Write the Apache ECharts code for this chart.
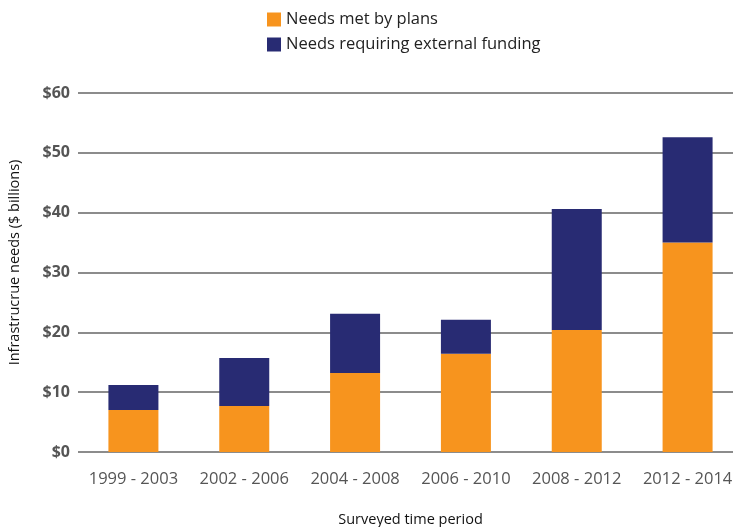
<!DOCTYPE html>
<html><head><meta charset="utf-8">
<script src="https://cdn.jsdelivr.net/npm/echarts@6/dist/echarts.min.js"></script>
<style>html,body{margin:0;padding:0;background:#fff}#c{width:733px;height:527px}</style>
</head><body><div id="c"></div>
<script>
const categories = ['1999 - 2003','2002 - 2006','2004 - 2008','2006 - 2010','2008 - 2012','2012 - 2014'];
const metByPlans = [7.0, 7.7, 13.2, 16.4, 20.4, 35.0];
const totalNeeds = [11.2, 15.7, 23.1, 22.1, 40.6, 52.6];
const externalFunding = totalNeeds.map((t, i) => +(t - metByPlans[i]).toFixed(1));
const yTicks = [0, 10, 20, 30, 40, 50, 60];

const FONT = '"Open Sans", "Noto Sans", sans-serif';
const chart = echarts.init(document.getElementById('c'), null, {renderer: 'canvas'});
chart.setOption({
  animation: false,
  textStyle: {fontFamily: FONT},
  legend: {
    orient: 'vertical', left: 262, top: 6, itemWidth: 14, itemHeight: 14, itemGap: 8,
    textStyle: {fontSize: 16.5, color: '#222', fontFamily: FONT},
    icon: 'rect',
    data: ['Needs met by plans', 'Needs requiring external funding']
  },
  grid: {left: 78, width: 665, top: 93, bottom: 75, containLabel: false, outerBoundsMode: 'none'},
  xAxis: {
    type: 'category', data: categories,
    name: 'Surveyed time period', nameLocation: 'middle', nameGap: 60,
    nameTextStyle: {fontSize: 14.5, color: '#111', fontFamily: FONT},
    axisLine: {show: false}, axisTick: {show: false},
    axisLabel: {fontSize: 16.5, color: '#555', margin: 19, fontFamily: FONT, interval: 0, hideOverlap: false}
  },
  yAxis: {
    type: 'value', min: 0, max: 60, interval: 10,
    name: 'Infrastrucrue needs ($ billions)', nameLocation: 'middle', nameGap: 56, nameRotate: 90,
    nameTextStyle: {fontSize: 14.5, color: '#111', fontFamily: FONT, padding: [0, 0, 0, 20]},
    axisLine: {show: false}, axisTick: {show: false},
    axisLabel: {fontSize: 16, color: '#555', fontWeight: 'bold', margin: 8, fontFamily: FONT,
      formatter: v => yTicks.includes(v) ? '$' + v : ''},
    splitLine: {lineStyle: {color: '#666', width: 1.5}}
  },
  series: [
    {name: 'Needs met by plans', type: 'bar', stack: 'a', barWidth: 50, data: metByPlans,
     itemStyle: {color: '#F7941E'}},
    {name: 'Needs requiring external funding', type: 'bar', stack: 'a', barWidth: 50, data: externalFunding,
     itemStyle: {color: '#282B73'}}
  ]
});
</script></body></html>
